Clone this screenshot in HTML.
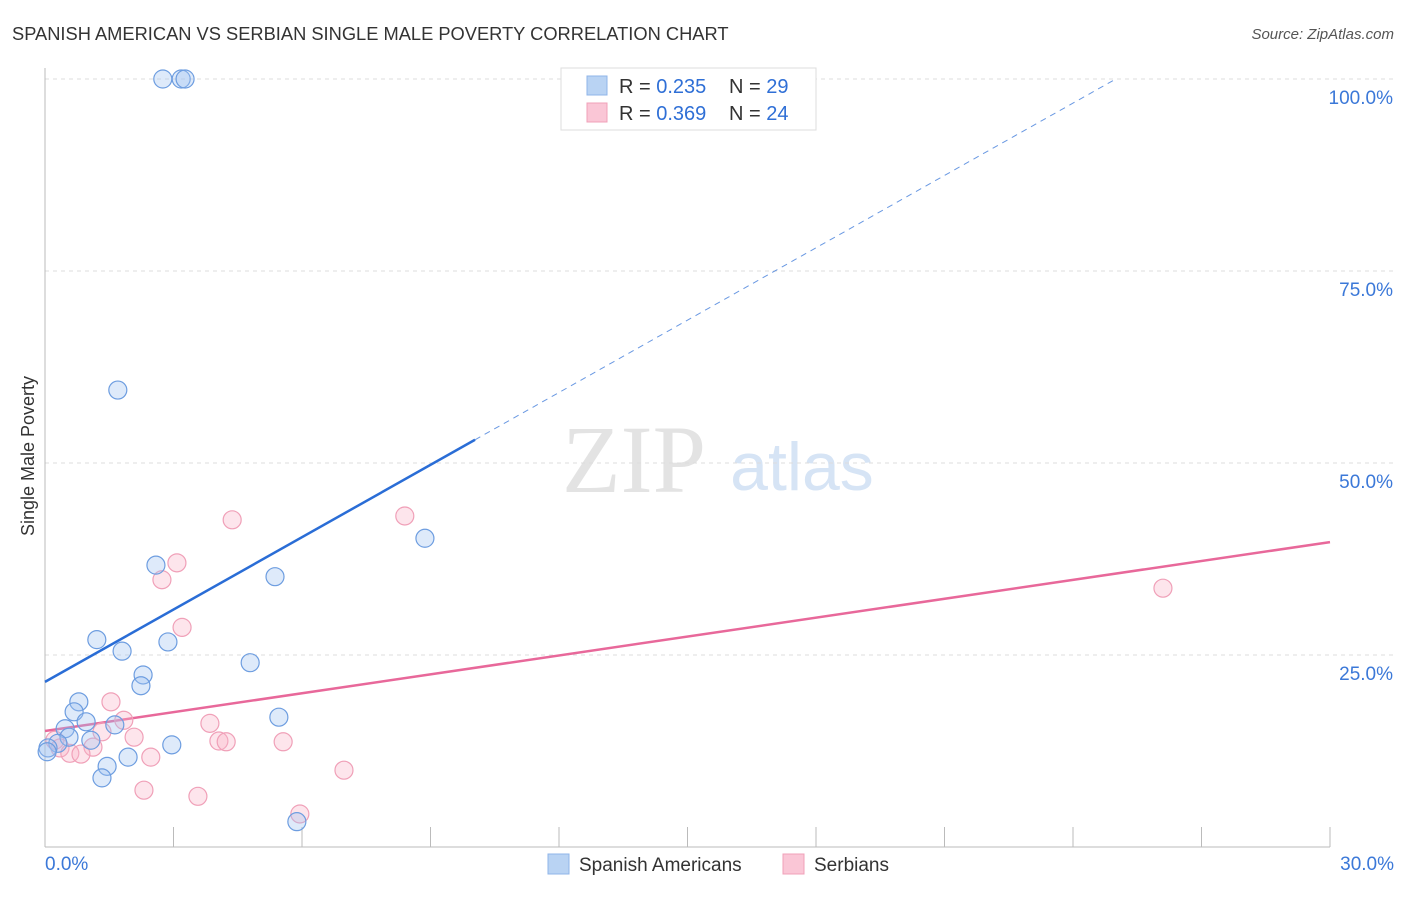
<!DOCTYPE html>
<html><head><meta charset="utf-8"><style>
body{margin:0;background:#fff;font-family:"Liberation Sans",sans-serif;}
svg text{font-family:"Liberation Sans",sans-serif;}
</style></head><body>
<svg id="chart" width="1406" height="892">
<text x="12" y="40" font-size="18.3" fill="#333">SPANISH AMERICAN VS SERBIAN SINGLE MALE POVERTY CORRELATION CHART</text>
<text x="1394" y="39" font-size="15" fill="#555" font-style="italic" text-anchor="end">Source: ZipAtlas.com</text>
<text x="634" y="492" font-size="96" fill="#e3e3e3" style="font-family:'Liberation Serif',serif" text-anchor="middle">ZIP</text>
<text x="802" y="490" font-size="68" fill="#d6e4f5" text-anchor="middle">atlas</text>
<text transform="translate(34,456) rotate(-90)" font-size="18" fill="#333" text-anchor="middle">Single Male Poverty</text>
<g id="grid"></g><g id="axes"></g><g id="lines"></g><g id="pts"></g>
<g>
<rect x="561" y="68" width="255" height="62" fill="#fff" stroke="#ddd"/>
<rect x="587" y="76" width="20" height="19" fill="#b9d3f3" stroke="#8fb5e8"/>
<rect x="587" y="103" width="20" height="19" fill="#fac6d6" stroke="#f0a0b8"/>
<text x="619" y="93" font-size="20" fill="#333">R = <tspan fill="#2f6fd6">0.235</tspan><tspan x="729">N = </tspan><tspan fill="#2f6fd6">29</tspan></text>
<text x="619" y="120" font-size="20" fill="#333">R = <tspan fill="#2f6fd6">0.369</tspan><tspan x="729">N = </tspan><tspan fill="#2f6fd6">24</tspan></text>
</g>
<g>
<rect x="548" y="854" width="21" height="20" fill="#b9d3f3" stroke="#8fb5e8"/>
<text x="579" y="871" font-size="19" fill="#333">Spanish Americans</text>
<rect x="783" y="854" width="21" height="20" fill="#fac6d6" stroke="#f0a0b8"/>
<text x="814" y="871" font-size="19" fill="#333">Serbians</text>
</g>
</svg>
<script>
const blueX=[2.75,3.18,3.27,1.70,2.59,5.37,8.87,1.21,1.80,2.87,2.29,2.24,4.79,0.79,0.68,5.46,0.47,0.96,0.56,1.63,1.07,0.30,2.96,0.07,1.94,1.45,1.33,5.88,0.05];
const blueY=[100,100,100,59.5,36.7,35.2,40.2,27.0,25.5,26.7,22.4,21.0,24.0,18.9,17.6,16.9,15.4,16.3,14.3,15.9,13.9,13.5,13.3,12.9,11.7,10.5,9.0,3.3,12.4];
const pinkX=[4.37,8.40,3.08,2.73,3.20,1.54,1.84,3.85,1.33,2.08,0.23,1.12,4.06,4.23,5.56,0.35,0.58,0.84,2.47,6.98,2.31,3.57,5.95,26.1];
const pinkY=[42.6,43.1,37.0,34.8,28.6,18.9,16.5,16.1,15.0,14.3,13.9,13.0,13.8,13.7,13.7,12.9,12.2,12.1,11.7,10.0,7.4,6.6,4.3,33.7];
const yTicks=[25,50,75,100];
const yTickLabels=["25.0%","50.0%","75.0%","100.0%"];
const blueTrend=[21.5,3.14];
const pinkTrend=[15.1,0.82];
const NS="http://www.w3.org/2000/svg";
const X=v=>45+v*1285/30, Y=v=>847-v*7.68;
function mk(p,t,a){const e=document.createElementNS(NS,t);for(const k in a)e.setAttribute(k,a[k]);document.getElementById(p).appendChild(e);return e;}
yTicks.forEach((t,i)=>{
 const g=mk('grid','line',{x1:45,x2:1395,y1:Y(t),y2:Y(t),stroke:'#ddd','stroke-dasharray':'4,4'});
 
 
 const l=mk('axes','text',{x:1393,y:Y(t)+25,'font-size':19,fill:'#3b78d8','text-anchor':'end'});
 l.textContent=yTickLabels[i];
 
 
});
const ax=mk('axes','line',{x1:45,x2:45,y1:68,y2:847,stroke:'#bbb'});


const bx=mk('axes','line',{x1:45,x2:1330,y1:847,y2:847,stroke:'#bbb'});


for(let i=1;i<=10;i++){const t=mk('axes','line',{x1:X(i*3),x2:X(i*3),y1:827,y2:847,stroke:'#bbb'});
 
 }
[[0,'0.0%','start',45],[30,'30.0%','end',1394]].forEach(d=>{const t=mk('axes','text',{x:d[3],y:870,'font-size':19,fill:'#3b78d8','text-anchor':d[2]});t.textContent=d[1];
 
 });
let xe=10.04;
let l1=mk('lines','line',{x1:X(0),y1:Y(blueTrend[0]),x2:X(xe),y2:Y(blueTrend[0]+blueTrend[1]*xe),stroke:'#2a6dd6','stroke-width':2.5});


let xd=(100-blueTrend[0])/blueTrend[1];
let l2=mk('lines','line',{x1:X(xe),y1:Y(blueTrend[0]+blueTrend[1]*xe),x2:X(xd),y2:Y(100),stroke:'#2a6dd6','stroke-width':1,'stroke-dasharray':'6,5',opacity:0.7});


let l3=mk('lines','line',{x1:X(0),y1:Y(pinkTrend[0]),x2:X(30),y2:Y(pinkTrend[0]+pinkTrend[1]*30),stroke:'#e8689a','stroke-width':2.5});


pinkX.forEach((v,i)=>{const c=mk('pts','circle',{cx:X(v),cy:Y(pinkY[i]),r:9,fill:'rgba(248,180,200,0.35)',stroke:'#f0a0b8','stroke-width':1.2});
 
 });
blueX.forEach((v,i)=>{const c=mk('pts','circle',{cx:X(v),cy:Y(blueY[i]),r:9,fill:'rgba(160,195,240,0.35)',stroke:'#6d9de0','stroke-width':1.2});
 
 });
</script>
</body></html>
